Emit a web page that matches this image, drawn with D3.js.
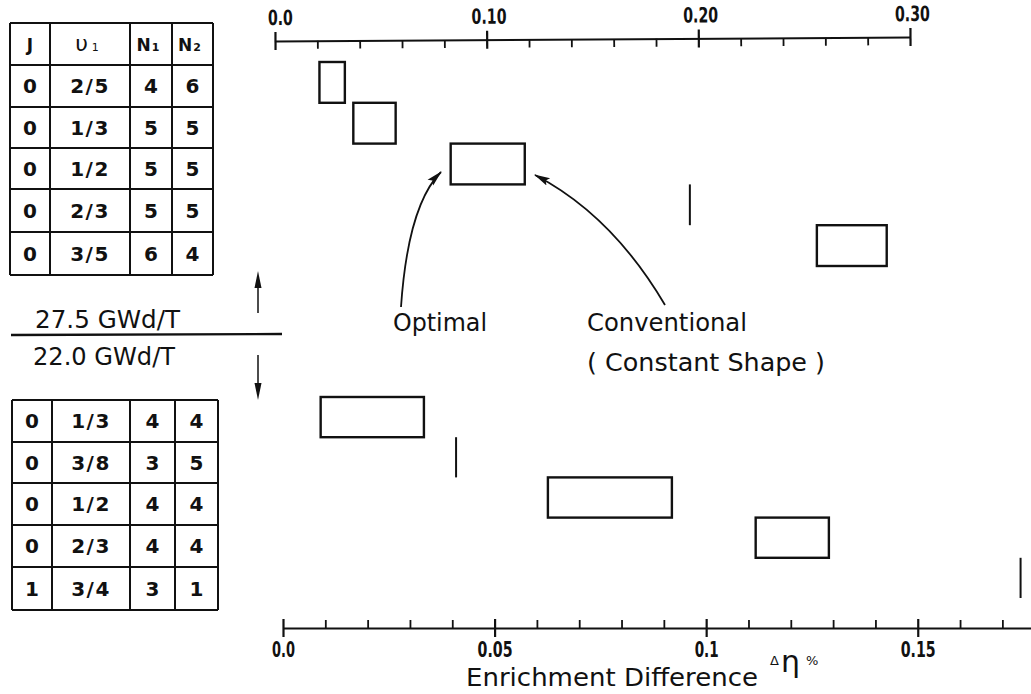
<!DOCTYPE html>
<html><head><meta charset="utf-8">
<script src="https://cdn.jsdelivr.net/npm/d3@7"></script>
<style>
body{margin:0;background:#fff}
svg{display:block}
text{font-family:"DejaVu Sans",sans-serif;fill:#111}
</style>
</head><body>
<svg id="c" width="1031" height="694"></svg>
<script>
// ---- data ----
const rows = [0, 1, 2, 3, 4];
// upper table (27.5 GWd/T)
const topJ  = ["0", "0", "0", "0", "0"];
const topNu = ["2/5", "1/3", "1/2", "2/3", "3/5"];
const topN1 = ["4", "5", "5", "5", "6"];
const topN2 = ["6", "5", "5", "5", "4"];
// lower table (22.0 GWd/T)
const botJ  = ["0", "0", "0", "0", "1"];
const botNu = ["1/3", "3/8", "1/2", "2/3", "3/4"];
const botN1 = ["4", "3", "4", "4", "3"];
const botN2 = ["4", "5", "4", "4", "1"];
// enrichment difference ranges (Δη %)
const topLo = [0.021, 0.037, 0.083, 0.196, 0.256];
const topHi = [0.033, 0.057, 0.118, 0.196, 0.289];
const botLo = [0.0089, 0.0409, 0.0626, 0.1117, 0.1743];
const botHi = [0.0333, 0.0409, 0.0919, 0.1290, 0.1743];
// axes
const topMajor = [0, 0.10, 0.20, 0.30];
const topMajorLabels = ["0.0", "0.10", "0.20", "0.30"];
const topMinor = [0.02, 0.04, 0.06, 0.08, 0.12, 0.14, 0.16, 0.18, 0.22, 0.24, 0.26, 0.28];
const botMajor = [0, 0.05, 0.10, 0.15];
const botMajorLabels = ["0.0", "0.05", "0.1", "0.15"];
const botMinor = [0.01, 0.02, 0.03, 0.04, 0.06, 0.07, 0.08, 0.09, 0.11, 0.12, 0.13, 0.14, 0.16, 0.17];
const headers = ["J", "υ", "N", "N"];
const headerSubs = ["", "1", "1", "2"];

// ---- drawing ----
const svg = d3.select("#c");
const ink = "#111";

const xTop = d3.scaleLinear().domain([0, 0.30]).range([275, 910]);
const xBot = d3.scaleLinear().domain([0, 0.177]).range([283, 1032]);
const yTop = d3.scaleBand().domain(rows).range([62, 266]);
const yBot = d3.scaleBand().domain(rows).range([397, 598]);

function styleAxis(g){
  g.selectAll("path.domain").attr("stroke", ink).attr("stroke-width", 2);
  g.selectAll(".tick line").attr("stroke", ink).attr("stroke-width", 1.8);
}

// top axis (slightly tilted, as drawn in the original)
const topG = svg.append("g").attr("transform", "rotate(-0.35,275,41)");
const gTopMinor = topG.append("g").attr("transform", "translate(0,41)")
  .call(d3.axisTop(xTop).tickValues(topMinor).tickSize(-8).tickSizeOuter(0).tickFormat(""));
styleAxis(gTopMinor);
const gTopMajor = topG.append("g").attr("transform", "translate(0,41)")
  .call(d3.axisTop(xTop).tickValues(topMajor).tickSize(9).tickSizeOuter(0).tickPadding(7)
    .tickFormat((d, i) => topMajorLabels[i]));
styleAxis(gTopMajor);
gTopMajor.select("path.domain").remove();
gTopMajor.selectAll(".tick line").attr("y1", 9).attr("y2", -9).attr("stroke-width", 2.2);
gTopMajor.selectAll(".tick text")
  .style("font-size", "21px").style("font-weight", "bold")
  .attr("fill", ink).attr("font-family", "DejaVu Sans")
  .attr("textLength", (d, i) => i === 0 ? 25 : 35).attr("lengthAdjust", "spacingAndGlyphs")
  .attr("dx", (d, i) => i === 0 ? 5 : 2);

// bottom axis
const gBotMinor = svg.append("g").attr("transform", "translate(0,628)")
  .call(d3.axisBottom(xBot).tickValues(botMinor).tickSize(-8).tickSizeOuter(0).tickFormat(""));
styleAxis(gBotMinor);
const gBotMajor = svg.append("g").attr("transform", "translate(0,628)")
  .call(d3.axisBottom(xBot).tickValues(botMajor).tickSize(9).tickSizeOuter(0).tickPadding(5)
    .tickFormat((d, i) => botMajorLabels[i]));
styleAxis(gBotMajor);
gBotMajor.select("path.domain").remove();
gBotMajor.selectAll(".tick line").attr("y1", -9).attr("y2", 9).attr("stroke-width", 2.2);
gBotMajor.selectAll(".tick text")
  .style("font-size", "21px").style("font-weight", "bold")
  .attr("fill", ink).attr("font-family", "DejaVu Sans")
  .attr("textLength", (d, i) => i === 0 ? 23 : (i === 2 ? 24 : 35)).attr("lengthAdjust", "spacingAndGlyphs");

// marks
function drawMarks(lo, hi, x, y){
  const g = svg.append("g");
  rows.forEach(i => {
    if (lo[i] === hi[i]) {
      g.append("line").attr("x1", x(lo[i])).attr("x2", x(lo[i]))
        .attr("y1", y(i)).attr("y2", y(i) + y.bandwidth())
        .attr("stroke", ink).attr("stroke-width", 2);
    } else {
      g.append("rect").attr("x", x(lo[i])).attr("y", y(i))
        .attr("width", x(hi[i]) - x(lo[i])).attr("height", y.bandwidth())
        .attr("fill", "none").attr("stroke", ink).attr("stroke-width", 2.4);
    }
  });
}
drawMarks(topLo, topHi, xTop, yTop);
drawMarks(botLo, botHi, xBot, yBot);

// tables
function drawTable(cols, rowLines, cells, header){
  const g = svg.append("g");
  rowLines.forEach(y => g.append("line").attr("x1", cols[0]).attr("x2", cols[cols.length-1])
    .attr("y1", y).attr("y2", y).attr("stroke", ink).attr("stroke-width", 2));
  cols.forEach(x => g.append("line").attr("x1", x).attr("x2", x)
    .attr("y1", rowLines[0]).attr("y2", rowLines[rowLines.length-1]).attr("stroke", ink).attr("stroke-width", 2));
  const off = header ? 1 : 0;
  if (header) {
    headers.forEach((h, c) => {
      const cx = (cols[c] + cols[c+1]) / 2;
      const cy = (rowLines[0] + rowLines[1]) / 2;
      const t = g.append("text").attr("x", cx + (headerSubs[c] ? -3 : 0)).attr("y", cy + 7)
        .attr("text-anchor", "middle").attr("font-size", c === 1 ? 22 : 17).attr("font-weight", c === 1 ? "normal" : "bold");
      t.append("tspan").text(h);
      if (headerSubs[c]) t.append("tspan").attr("font-size", 11).attr("dx", c === 1 ? 4 : 1)
        .attr("font-weight", c === 1 ? "normal" : "bold").text(headerSubs[c]);
    });
  }
  cells.forEach((col, c) => {
    col.forEach((v, r) => {
      const cx = (cols[c] + cols[c+1]) / 2;
      const cy = (rowLines[r+off] + rowLines[r+off+1]) / 2;
      g.append("text").attr("x", cx).attr("y", cy + 7).attr("text-anchor", "middle")
        .attr("font-size", 20).attr("font-weight", "bold")
        .attr("letter-spacing", v.length > 1 ? 1.5 : 0).text(v);
    });
  });
}
drawTable([10, 50, 130, 172, 213], [23, 65, 107, 148, 189, 232, 275], [topJ, topNu, topN1, topN2], true);
drawTable([12, 52, 130, 175, 218], [400, 442, 483, 525, 567, 610], [botJ, botNu, botN1, botN2], false);

// divider and burnup labels
svg.append("line").attr("x1", 11).attr("x2", 282).attr("y1", 335).attr("y2", 334)
  .attr("stroke", ink).attr("stroke-width", 2.4);
svg.append("text").attr("x", 35).attr("y", 328).attr("font-size", 24)
  .attr("textLength", 145).attr("lengthAdjust", "spacingAndGlyphs").text("27.5 GWd/T");
svg.append("text").attr("x", 33).attr("y", 365).attr("font-size", 24)
  .attr("textLength", 142).attr("lengthAdjust", "spacingAndGlyphs").text("22.0 GWd/T");

// straight arrows
svg.append("line").attr("x1", 258).attr("x2", 258).attr("y1", 313).attr("y2", 284).attr("stroke", ink).attr("stroke-width", 1.5);
svg.append("path").attr("d", "M258,271 L254.5,288 L261.5,288 Z").attr("fill", ink);
svg.append("line").attr("x1", 258).attr("x2", 258).attr("y1", 355).attr("y2", 386).attr("stroke", ink).attr("stroke-width", 1.5);
svg.append("path").attr("d", "M258,400 L254.5,383 L261.5,383 Z").attr("fill", ink);

// curved annotation arrows
const defs = svg.append("defs");
defs.append("marker").attr("id", "ah").attr("viewBox", "0 0 16 10").attr("refX", 15).attr("refY", 5)
  .attr("markerWidth", 16).attr("markerHeight", 10).attr("markerUnits", "userSpaceOnUse").attr("orient", "auto")
  .append("path").attr("d", "M0,1 L16,5 L0,9 L3,5 Z").attr("fill", ink);
svg.append("path").attr("d", "M401,307 Q408,205 441,172").attr("fill", "none")
  .attr("stroke", ink).attr("stroke-width", 1.8).attr("marker-end", "url(#ah)");
svg.append("path").attr("d", "M665,305 Q612,215 535,175").attr("fill", "none")
  .attr("stroke", ink).attr("stroke-width", 1.8).attr("marker-end", "url(#ah)");

// annotation labels
svg.append("text").attr("x", 393).attr("y", 331).attr("font-size", 24)
  .attr("textLength", 94).attr("lengthAdjust", "spacingAndGlyphs").text("Optimal");
svg.append("text").attr("x", 587).attr("y", 331).attr("font-size", 24)
  .attr("textLength", 160).attr("lengthAdjust", "spacingAndGlyphs").text("Conventional");
svg.append("text").attr("x", 587).attr("y", 371).attr("font-size", 24)
  .attr("textLength", 238).attr("lengthAdjust", "spacingAndGlyphs").text("( Constant Shape )");

// axis title
svg.append("text").attr("x", 466).attr("y", 686).attr("font-size", 25)
  .attr("textLength", 292).attr("lengthAdjust", "spacingAndGlyphs").text("Enrichment  Difference");
const unit = svg.append("text").attr("x", 770).attr("y", 665);
unit.append("tspan").attr("font-size", 13).text("Δ");
unit.append("tspan").attr("font-size", 30).attr("dx", 2).attr("dy", 7).text("η");
unit.append("tspan").attr("font-size", 13).attr("dx", 6).attr("dy", -7).text("%");
</script>
</body></html>
